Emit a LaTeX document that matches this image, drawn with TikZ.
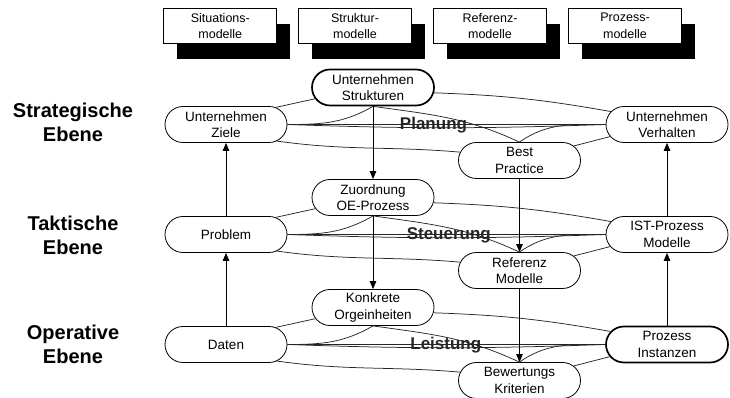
\documentclass[tikz,border=0pt]{standalone}
\usepackage{fontspec}
\setmainfont{Liberation Sans}
\usetikzlibrary{shapes.misc,arrows.meta}

\begin{document}
\begin{tikzpicture}[x=1pt,y=1pt,
  modelbox/.style={draw,line width=0.8pt,fill=white,minimum width=113pt,minimum height=35pt,
    inner sep=0pt,align=center,font=\fontsize{12.5}{16.5}\selectfont},
  shadowbox/.style={fill=black,minimum width=113pt,minimum height=35pt,inner sep=0pt},
  pill/.style={draw,rounded rectangle,line width=0.8pt,minimum width=122pt,minimum height=36pt,
    inner sep=0pt,align=center,fill=white,font=\fontsize{13.5}{16.5}\selectfont},
  pillbold/.style={pill,line width=1.7pt},
  layerlabel/.style={font=\bfseries\fontsize{20}{24}\selectfont,align=center},
  flowlabel/.style={font=\bfseries\fontsize{17}{20}\selectfont,anchor=base,text=black!85},
  edgeline/.style={line width=0.75pt,draw=black!85},
  flowarrow/.style={line width=0.8pt,-{Triangle[length=8pt,width=6.5pt]}}
]
\useasboundingbox (0,0) rectangle (730,398);

% model categories with drop shadows
\node[shadowbox] (s1) at (233.3,356.2) {};
\node[shadowbox] (s2) at (368.0,356.2) {};
\node[shadowbox] (s3) at (503.0,356.2) {};
\node[shadowbox] (s4) at (638.0,356.2) {};
\node[modelbox] (m1) at (220.3,372.2) {Situations-\\modelle};
\node[modelbox] (m2) at (355.0,372.2) {Struktur-\\modelle};
\node[modelbox] (m3) at (490.0,372.2) {Referenz-\\modelle};
\node[modelbox] (m4) at (625.0,372.2) {Prozess-\\modelle};

% level names
\node[layerlabel] (e1) at (73,275.5) {Strategische\\Ebene};
\node[layerlabel] (e2) at (73,162.5) {Taktische\\Ebene};
\node[layerlabel] (e3) at (73,54) {Operative\\Ebene};

% strategic level
\node[pill]     (L1) at (226,273.5)   {Unternehmen\\Ziele};
\node[pillbold] (T1) at (373,310.5)   {Unternehmen\\Strukturen};
\node[pill]     (B1) at (519.5,237.5) {Best\\Practice};
\node[pill]     (R1) at (667,273.5)   {Unternehmen\\Verhalten};

% tactical level
\node[pill] (L2) at (226,163.5)   {Problem};
\node[pill] (T2) at (373,200.5)   {Zuordnung\\OE-Prozess};
\node[pill] (B2) at (519.5,127.5) {Referenz\\Modelle};
\node[pill] (R2) at (667,163.5)   {IST-Prozess\\Modelle};

% operative level
\node[pill]     (L3) at (226,53.5)   {Daten};
\node[pill]     (T3) at (373,90.5)   {Konkrete\\Orgeinheiten};
\node[pill]     (B3) at (519.5,17.5) {Bewertungs\\Kriterien};
\node[pillbold] (R3) at (667,53.5)   {Prozess\\Instanzen};

% links inside each level
\foreach \i in {1,2,3} {
  \draw[edgeline] (L\i.east) -- (R\i.west);
  \draw[edgeline] (L\i.east) to[bend right=2] (R\i.west);
  \draw[edgeline] (L\i.19) -- (T\i.191);
  \draw[edgeline] (T\i.south) to[out=-150,in=0] (L\i.east);
  \draw[edgeline] (T\i.south) to[out=-8,in=155] (B\i.north);
  \draw[edgeline] (B\i.north) to[out=35,in=180] (R\i.west);
  \draw[edgeline] (B\i.15) -- (R\i.192);
  \draw[edgeline] (L\i.-18) to[out=-8,in=175] (B\i.172);
  \draw[edgeline] (T\i.-5) to[out=-2,in=170] (R\i.167);
}

% flow names
\node[flowlabel] (f1) at (433.5,268.7) {Planung};
\node[flowlabel] (f2) at (448.8,158.7) {Steuerung};
\node[flowlabel] (f3) at (445.8,48.7)  {Leistung};

% vertical arrows between levels
\draw[flowarrow] (L3.north) -- (L2.south);
\draw[flowarrow] (L2.north) -- (L1.south);
\draw[flowarrow] (T1.south) -- (T2.north);
\draw[flowarrow] (T2.south) -- (T3.north);
\draw[flowarrow] (B1.south) -- (B2.north);
\draw[flowarrow] (B2.south) -- (B3.north);
\draw[flowarrow] (R3.north) -- (R2.south);
\draw[flowarrow] (R2.north) -- (R1.south);
\end{tikzpicture}
\end{document}
